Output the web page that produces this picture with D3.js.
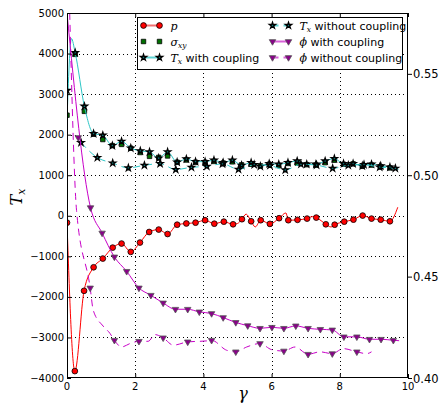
<!DOCTYPE html>
<html>
<head>
<meta charset="utf-8">
<script src="https://cdn.jsdelivr.net/npm/d3@7/dist/d3.min.js"></script>
<style>
  body { margin: 0; background: #fff; }
  svg text { font-family: "DejaVu Sans", sans-serif; }
  .math { font-family: "DejaVu Serif", serif; font-style: italic; }
</style>
</head>
<body>
<div id="chart"></div>
<script>
// gamma positions and values
var gammaP = [0, 0.23, 0.5, 0.78, 1.05, 1.34, 1.6, 1.87, 2.14, 2.41, 2.69, 2.95, 3.23, 3.5, 3.77, 4.05, 4.32, 4.6, 4.87, 5.13, 5.4, 5.68, 5.95, 6.22, 6.49, 6.76, 7.04, 7.31, 7.59, 7.85, 8.13, 8.4, 8.67, 8.93, 9.2, 9.47];
var pVals = [-170, -3830, -1850, -1270, -1055, -785, -685, -890, -660, -400, -340, -450, -220, -190, -170, -110, -195, -145, -210, -85, -135, -110, -200, -60, -110, -100, -70, -45, -210, -220, -145, -95, 5, -70, -95, -135];
var pLineG = [0, 0.23, 0.5, 0.78, 1.05, 1.34, 1.6, 1.87, 2.14, 2.41, 2.69, 2.95, 3.23, 3.5, 3.77, 4.05, 4.32, 4.6, 4.87, 5.0, 5.13, 5.25, 5.4, 5.52, 5.68, 5.95, 6.22, 6.42, 6.49, 6.76, 7.04, 7.2, 7.31, 7.45, 7.59, 7.74, 7.85, 8.13, 8.4, 8.67, 8.93, 9.2, 9.47, 9.7];
var pLineV = [-170, -3830, -1850, -1270, -1055, -785, -685, -890, -660, -400, -340, -450, -220, -190, -170, -110, -195, -145, -210, -190, -85, 40, -135, -275, -110, -200, -60, 70, -110, -100, -70, -20, -45, -120, -210, -275, -220, -145, -95, 5, -70, -95, -135, 210];

var gammaTx = [0, 0.24, 0.51, 0.78, 1.05, 1.33, 1.6, 1.87, 2.15, 2.42, 2.69, 2.95, 3.23, 3.5, 3.77, 4.05, 4.31, 4.58, 4.85, 5.12, 5.4, 5.67, 5.93, 6.21, 6.48, 6.75, 7.03, 7.3, 7.57, 7.84, 8.11, 8.39, 8.66, 8.93, 9.2, 9.47];
var sigmaXY = [2480, 3980, 2575, 2010, 1880, 1730, 1760, 1665, 1560, 1465, 1440, 1475, 1320, 1375, 1320, 1320, 1340, 1300, 1330, 1255, 1270, 1230, 1270, 1240, 1290, 1300, 1260, 1250, 1310, 1370, 1270, 1280, 1220, 1250, 1210, 1180];
var txWith = [3090, 4020, 2700, 2025, 1985, 1730, 1835, 1670, 1600, 1575, 1420, 1575, 1320, 1400, 1335, 1335, 1370, 1310, 1370, 1245, 1310, 1220, 1285, 1270, 1310, 1350, 1270, 1270, 1350, 1410, 1285, 1285, 1230, 1270, 1230, 1200];
var txWithLineG = [0, 0.13, 0.24, 0.51, 0.78, 1.05, 1.33, 1.6, 1.87, 2.15, 2.42, 2.69, 2.95, 3.23, 3.5, 3.77, 4.05, 4.31, 4.58, 4.85, 5.12, 5.4, 5.67, 5.93, 6.21, 6.48, 6.75, 7.03, 7.3, 7.57, 7.84, 8.11, 8.39, 8.66, 8.93, 9.2, 9.47, 9.72];
var txWithLineV = [2350, 4370, 4020, 2700, 2025, 1985, 1730, 1835, 1670, 1600, 1575, 1420, 1575, 1320, 1400, 1335, 1335, 1370, 1310, 1370, 1245, 1310, 1220, 1285, 1270, 1310, 1350, 1270, 1270, 1350, 1410, 1285, 1285, 1230, 1270, 1230, 1200, 1140];

var gammaTxNo = [0.41, 0.89, 1.34, 1.8, 2.27, 2.73, 3.19, 3.65, 4.1, 4.56, 5.03, 5.49, 5.95, 6.4, 6.86, 7.32, 7.79, 8.25, 8.71, 9.17, 9.63];
var txWithout = [1805, 1435, 1300, 1180, 1245, 1285, 1140, 1195, 1220, 1280, 1145, 1260, 1240, 1130, 1270, 1250, 1170, 1245, 1260, 1200, 1170];

var gammaPhi = [0.33, 0.69, 1.03, 1.39, 1.75, 2.11, 2.46, 2.82, 3.18, 3.54, 3.88, 4.24, 4.58, 4.95, 5.3, 5.66, 6.01, 6.36, 6.71, 7.07, 7.43, 7.78, 8.12, 8.5, 8.87, 9.21, 9.57];
var phiWith = [1930, 200, -425, -1015, -1370, -1780, -1960, -2150, -2305, -2305, -2370, -2410, -2510, -2630, -2710, -2775, -2750, -2775, -2715, -2775, -2800, -2815, -2985, -2985, -3045, -3045, -3070];
var phiWithLineG = [0, 0.69, 1.03, 1.39, 1.75, 2.11, 2.46, 2.82, 3.18, 3.54, 3.88, 4.24, 4.58, 4.95, 5.3, 5.66, 6.01, 6.36, 6.71, 7.07, 7.43, 7.78, 8.12, 8.5, 8.87, 9.21, 9.57, 9.74];
var phiWithLineV = [5000, 200, -425, -1015, -1370, -1780, -1960, -2150, -2305, -2305, -2370, -2410, -2510, -2630, -2710, -2775, -2750, -2775, -2715, -2775, -2800, -2815, -2985, -2985, -3045, -3045, -3070, -3080];

var gammaPhiNo = [0.68, 1.39, 2.11, 2.82, 3.54, 4.24, 4.95, 5.66, 6.36, 7.07, 7.78, 8.5];
var phiWithout = [-1780, -3070, -3095, -3010, -3110, -3070, -3355, -3150, -3335, -3415, -3400, -3355];
var phiNoLineG = [0.07, 0.28, 0.68, 0.77, 1.06, 1.26, 1.39, 1.6, 1.85, 2.11, 2.38, 2.58, 2.82, 3.12, 3.54, 4.1, 4.24, 4.68, 4.95, 5.27, 5.66, 6.0, 6.36, 6.69, 7.07, 7.42, 7.78, 8.1, 8.5, 8.79, 8.93];
var phiNoLineV = [5300, 130, -1780, -2330, -2720, -2900, -3070, -3235, -3150, -3095, -3095, -2930, -3010, -3190, -3110, -3085, -3070, -3315, -3355, -3235, -3150, -3300, -3335, -3235, -3415, -3355, -3400, -3275, -3355, -3400, -3355];

var xTicks = [0, 2, 4, 6, 8, 10];
var yTicks = [-4000, -3000, -2000, -1000, 0, 1000, 2000, 3000, 4000, 5000];
var rightTicks = [0.40, 0.45, 0.50, 0.55];

var width = 442, height = 404;
var plot = { left: 67, right: 408, top: 13, bottom: 378 };

var svg = d3.select('#chart').append('svg')
  .attr('width', width)
  .attr('height', height);

var x = d3.scaleLinear().domain([0, 10]).range([plot.left, plot.right]);
var y = d3.scaleLinear().domain([-4000, 5000]).range([plot.bottom, plot.top]);
var yRight = d3.scaleLinear().domain([0.40, 0.58]).range([plot.bottom, plot.top]);

function zip(g, v) {
  return g.map(function (d, i) { return [d, v[i]]; });
}

svg.append('defs').append('clipPath')
  .attr('id', 'plotClip')
  .append('rect')
  .attr('x', plot.left)
  .attr('y', plot.top)
  .attr('width', plot.right - plot.left)
  .attr('height', plot.bottom - plot.top);

// grid
var grid = svg.append('g');
grid.selectAll('.gx')
  .data(xTicks.slice(1, -1))
  .enter().append('line')
  .attr('x1', function (d) { return Math.round(x(d)) + 0.5; })
  .attr('x2', function (d) { return Math.round(x(d)) + 0.5; })
  .attr('y1', plot.top)
  .attr('y2', plot.bottom)
  .attr('stroke', '#000')
  .attr('stroke-width', 1)
  .attr('stroke-dasharray', '1,3');
grid.selectAll('.gy')
  .data(yTicks.slice(1, -1))
  .enter().append('line')
  .attr('x1', plot.left)
  .attr('x2', plot.right)
  .attr('y1', function (d) { return Math.round(y(d)) + 0.5; })
  .attr('y2', function (d) { return Math.round(y(d)) + 0.5; })
  .attr('stroke', '#000')
  .attr('stroke-width', 1)
  .attr('stroke-dasharray', '1,3');

var marks = svg.append('g').attr('clip-path', 'url(#plotClip)');
var line = d3.line()
  .x(function (d) { return x(d[0]); })
  .y(function (d) { return y(d[1]); })
  .curve(d3.curveMonotoneX);

var red = '#ff0000', cyan = '#2cc6c6', magenta = '#c800c8';
var fills = { circle: red, square: '#007000', star: '#0a8a8a', tri: '#8a008a' };

function drawLine(pts, color, dash) {
  marks.append('path')
    .datum(pts)
    .attr('d', line)
    .attr('fill', 'none')
    .attr('stroke', color)
    .attr('stroke-width', 1)
    .attr('stroke-dasharray', dash || null);
}

var sym = {
  circle: d3.symbol().type(d3.symbolCircle).size(26),
  square: d3.symbol().type(d3.symbolSquare).size(20),
  star: d3.symbol().type(d3.symbolStar).size(12),
  tri: d3.symbol().type(d3.symbolTriangle).size(18)
};

function styleMarker(s, kind) {
  s.attr('fill', fills[kind])
    .attr('stroke', kind === 'tri' ? '#555' : '#000')
    .attr('stroke-width', kind === 'star' ? 1.3 : 0.8);
}

function drawMarkers(pts, kind) {
  var s = marks.selectAll(null)
    .data(pts)
    .enter().append('path')
    .attr('d', sym[kind])
    .attr('transform', function (d) {
      var t = 'translate(' + x(d[0]) + ',' + y(d[1]) + ')';
      return kind === 'tri' ? t + ' rotate(180)' : t;
    });
  styleMarker(s, kind);
}

// p
drawLine(zip(pLineG, pLineV), red);
drawMarkers(zip(gammaP, pVals), 'circle');
// sigma_xy
drawMarkers(zip(gammaTx, sigmaXY), 'square');
// T_x with coupling
drawLine(zip(txWithLineG, txWithLineV), cyan);
drawMarkers(zip(gammaTx, txWith), 'star');
// T_x without coupling
drawLine(zip(gammaTxNo, txWithout).concat([[9.72, 1120]]), cyan, '7,5');
drawMarkers(zip(gammaTxNo, txWithout), 'star');
// phi with coupling
drawLine(zip(phiWithLineG, phiWithLineV), magenta);
drawMarkers(zip(gammaPhi, phiWith), 'tri');
// phi without coupling
drawLine(zip(phiNoLineG, phiNoLineV), magenta, '7,5');
drawMarkers(zip(gammaPhiNo, phiWithout), 'tri');

// frame
svg.append('rect')
  .attr('x', plot.left + 0.5)
  .attr('y', plot.top + 0.5)
  .attr('width', plot.right - plot.left - 1)
  .attr('height', plot.bottom - plot.top - 1)
  .attr('fill', 'none')
  .attr('stroke', '#000')
  .attr('stroke-width', 1);

// axes
var fmt = function (d) { return String(d).replace('-', '\u2212'); };
svg.append('g')
  .attr('transform', 'translate(' + plot.left + ',0)')
  .call(d3.axisRight(y).tickValues(yTicks).tickSize(4).tickFormat(''))
  .call(function (g) { g.select('.domain').remove(); });
svg.append('g')
  .selectAll('text')
  .data(yTicks)
  .enter().append('text')
  .attr('x', plot.left - 3)
  .attr('y', function (d) { return y(d) + 3.5; })
  .attr('text-anchor', 'end')
  .attr('font-size', 10)
  .text(fmt);

svg.append('g')
  .attr('transform', 'translate(0,' + plot.bottom + ')')
  .call(d3.axisTop(x).tickValues(xTicks).tickSize(4).tickFormat(''))
  .call(function (g) { g.select('.domain').remove(); });
svg.append('g')
  .attr('transform', 'translate(0,' + plot.top + ')')
  .call(d3.axisBottom(x).tickValues(xTicks).tickSize(4).tickFormat(''))
  .call(function (g) { g.select('.domain').remove(); });
svg.append('g')
  .selectAll('text')
  .data(xTicks)
  .enter().append('text')
  .attr('x', function (d) { return x(d); })
  .attr('y', plot.bottom + 12)
  .attr('text-anchor', 'middle')
  .attr('font-size', 10)
  .text(function (d) { return d; });

svg.append('g')
  .attr('transform', 'translate(' + plot.right + ',0)')
  .call(d3.axisRight(yRight).tickValues(rightTicks).tickSize(4).tickFormat(''))
  .call(function (g) { g.select('.domain').remove(); });
svg.append('g')
  .selectAll('text')
  .data(rightTicks)
  .enter().append('text')
  .attr('x', plot.right + 5)
  .attr('y', function (d) { return yRight(d) + 4.5; })
  .attr('font-size', 11.5)
  .text(function (d) { return d3.format('.2f')(d); });

// axis labels
var yl = svg.append('text')
  .attr('class', 'math')
  .attr('transform', 'translate(22,197) rotate(-90)')
  .attr('text-anchor', 'middle')
  .attr('font-size', 16);
yl.append('tspan').text('T');
yl.append('tspan').attr('font-size', 11).attr('dy', 3).text('x');

svg.append('text')
  .attr('class', 'math')
  .attr('x', 243)
  .attr('y', 399)
  .attr('text-anchor', 'middle')
  .attr('font-size', 16)
  .text('\u03b3');

// legend
var legend = svg.append('g');
legend.append('rect')
  .attr('x', 137.5)
  .attr('y', 17.5)
  .attr('width', 265)
  .attr('height', 52)
  .attr('fill', '#fff')
  .attr('stroke', '#000')
  .attr('stroke-width', 1);

var legendItems = [
  { col: 0, row: 0, color: '#f07070', dash: null, kind: 'circle', sym: 'p', sub: '', rest: '' },
  { col: 0, row: 1, color: null, dash: null, kind: 'square', sym: '\u03c3', sub: 'xy', rest: '' },
  { col: 0, row: 2, color: '#60d4d4', dash: null, kind: 'star', sym: 'T', sub: 'x', rest: ' with coupling' },
  { col: 1, row: 0, color: '#60d4d4', dash: '6,5', kind: 'star', sym: 'T', sub: 'x', rest: ' without coupling' },
  { col: 1, row: 1, color: '#d860d8', dash: null, kind: 'tri', sym: '\u03d5', sub: '', rest: ' with coupling' },
  { col: 1, row: 2, color: '#d860d8', dash: '6,5', kind: 'tri', sym: '\u03d5', sub: '', rest: ' without coupling' }
];
var colX = [143.5, 272.5];
var rowY = [25.5, 41.5, 57.5];

legendItems.forEach(function (it) {
  var x0 = colX[it.col], x1 = x0 + 16, yy = rowY[it.row];
  if (it.color) {
    legend.append('line')
      .attr('x1', x0).attr('x2', x1)
      .attr('y1', yy).attr('y2', yy)
      .attr('stroke', it.color)
      .attr('stroke-width', 2)
      .attr('stroke-dasharray', it.dash);
  }
  var s = legend.selectAll(null)
    .data([x0, x1])
    .enter().append('path')
    .attr('d', sym[it.kind])
    .attr('transform', function (d) {
      return 'translate(' + d + ',' + yy + ')' + (it.kind === 'tri' ? ' rotate(180)' : '');
    });
  styleMarker(s, it.kind);
  var t = legend.append('text')
    .attr('x', x0 + 27)
    .attr('y', yy + 4)
    .attr('font-size', 11);
  t.append('tspan').attr('class', 'math').text(it.sym);
  if (it.sub) {
    t.append('tspan').attr('class', 'math').attr('font-size', 7.5).attr('dy', 2.5).text(it.sub);
  }
  if (it.rest) {
    t.append('tspan').attr('dy', it.sub ? -2.5 : 0).text(it.rest);
  }
});
</script>
</body>
</html>
